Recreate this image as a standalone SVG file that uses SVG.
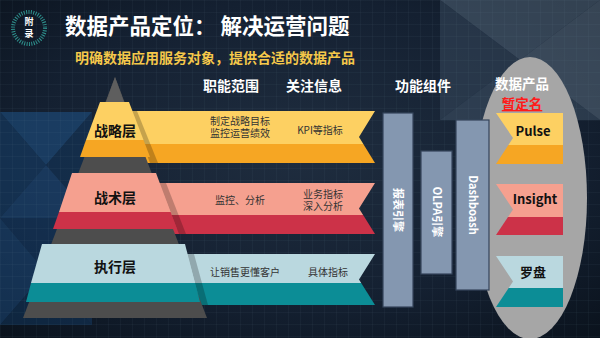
<svg xmlns="http://www.w3.org/2000/svg" width="600" height="338" viewBox="0 0 600 338">
<defs>
<radialGradient id="bg" cx="0.5" cy="0.45" r="0.75">
<stop offset="0" stop-color="#1f2d3f"/>
<stop offset="0.6" stop-color="#142031"/>
<stop offset="1" stop-color="#0a121c"/>
</radialGradient>
<pattern id="grid" width="12" height="12" patternUnits="userSpaceOnUse">
<path d="M12 0H0V12" fill="none" stroke="#6f8aa8" stroke-opacity="0.12" stroke-width="1"/>
</pattern>
<style>
.cjk{font-family:"Noto Sans CJK SC","Noto Sans",sans-serif;}
.title{font-size:21.5px;font-weight:bold;fill:#ffffff;}
.sub{font-size:14px;font-weight:bold;fill:#f5c84a;}
.hdr{font-size:14px;font-weight:bold;fill:#ffffff;text-anchor:middle;}
.lvl{font-size:14px;font-weight:bold;fill:#111111;text-anchor:middle;}
.rib{font-size:10px;fill:#333333;text-anchor:middle;}
.bar{fill:#8497b0;stroke:#34445a;stroke-width:1.2;}
.bart{font-size:11px;font-weight:bold;fill:#ffffff;text-anchor:middle;}
.prod{font-size:13px;font-weight:bold;fill:#111111;text-anchor:middle;}
.shadow{fill:#000000;fill-opacity:0.22;}
</style>
</defs>
<g id="background">
<rect width="600" height="338" fill="url(#bg)"/>
<polygon points="0,112 92,112 46,165" fill="#1f5388" fill-opacity="0.55"/>
<polygon points="0,112 46,165 0,218" fill="#163f6b" fill-opacity="0.55"/>
<polygon points="46,165 92,112 92,218" fill="#123760" fill-opacity="0.5"/>
<polygon points="0,218 46,165 92,218" fill="#1d4f86" fill-opacity="0.5"/>
<polygon points="0,218 92,218 46,272" fill="#143a66" fill-opacity="0.55"/>
<polygon points="0,218 46,272 0,325" fill="#1c4c80" fill-opacity="0.5"/>
<polygon points="46,272 92,218 92,325" fill="#16406f" fill-opacity="0.45"/>
<polygon points="0,325 46,272 92,325" fill="#123760" fill-opacity="0.5"/>
<polygon points="440,0 600,0 520,60" fill="#4c5f72" fill-opacity="0.6"/>
<polygon points="520,60 600,0 600,120" fill="#5a6c7e" fill-opacity="0.55"/>
<polygon points="440,0 520,60 440,120" fill="#3a4c60" fill-opacity="0.5"/>
<polygon points="440,120 520,60 600,120" fill="#4a5d70" fill-opacity="0.45"/>
<rect width="600" height="338" fill="url(#grid)"/>
</g>
<g id="badge">
<circle cx="29" cy="28" r="16" fill="none" stroke="#2e8f8c" stroke-width="4" stroke-dasharray="1 1.4"/>
<text x="29" y="25" class="cjk" font-size="9" font-weight="bold" fill="#ffffff" text-anchor="middle">附</text>
<text x="29" y="37" class="cjk" font-size="9" font-weight="bold" fill="#ffffff" text-anchor="middle">录</text>
</g>
<g id="title">
<text x="65" y="34" class="cjk title">数据产品定位： 解决运营问题</text>
<text x="75" y="63" class="cjk sub">明确数据应用服务对象，提供合适的数据产品</text>
</g>
<g id="headers">
<text x="231" y="91" class="cjk hdr">职能范围</text>
<text x="314" y="91" class="cjk hdr">关注信息</text>
<text x="423" y="91" class="cjk hdr">功能组件</text>
</g>
<g id="product-area">
<ellipse cx="530" cy="198" rx="57" ry="141" fill="#a6a6a6"/>
<text x="522" y="89" class="cjk" font-size="13.5" font-weight="bold" fill="#ffffff" text-anchor="middle">数据产品</text>
<text x="522" y="109" class="cjk" font-size="13.5" font-weight="bold" fill="#ff1a1a" text-anchor="middle" text-decoration="underline">暂定名</text>
</g>
<g id="ribbon-strategy">
<polygon points="125,111 375,111 359,137 363.3,144 125,144" fill="#fdd062"/>
<polygon points="125,144 363.3,144 375,163 125,163" fill="#f6a623"/>
<polygon points="130,111 137,111 158,163 150,163" class="shadow"/>
<text x="240" y="125" class="cjk rib">制定战略目标</text>
<text x="240" y="137" class="cjk rib">监控运营绩效</text>
<text x="320" y="134" class="cjk rib">KPI等指标</text>
</g>
<g id="ribbon-tactic">
<polygon points="125,183 375,183 359,208.5 363.1,215 125,215" fill="#f5a08f"/>
<polygon points="125,215 363.1,215 375,234 125,234" fill="#cc3248"/>
<polygon points="159,183 166,183 186,234 179,234" class="shadow"/>
<text x="240" y="204" class="cjk rib">监控、分析</text>
<text x="323" y="197.5" class="cjk rib">业务指标</text>
<text x="323" y="209.5" class="cjk rib">深入分析</text>
</g>
<g id="ribbon-execute">
<polygon points="125,254 375,254 359,279.5 361.2,283 125,283" fill="#bad8df"/>
<polygon points="125,283 361.2,283 375,305 125,305" fill="#0c8d96"/>
<polygon points="187,254 194,254 208,305 201,305" class="shadow"/>
<text x="245" y="276" class="cjk rib">让销售更懂客户</text>
<text x="328" y="276" class="cjk rib">具体指标</text>
</g>
<g id="pyramid">
<polygon points="115,77 207,318 23,318" fill="#4d4d4d"/>
<polygon points="115,77 124,102 106,102" fill="#5e5e5e"/>
<polygon points="100,102 129,102 143.5,140 86,140" fill="#fdd062"/>
<polygon points="86,140 143.5,140 150,157 80,157" fill="#f6a623"/>
<polygon points="72,173 156,173 170.6,212 59,212" fill="#f5a08f"/>
<polygon points="59,212 170.6,212 177,229 53,229" fill="#cc3248"/>
<polygon points="42,244 185,244 195,283 31,283" fill="#bad8df"/>
<polygon points="31,283 195,283 200,302 26,302" fill="#0c8d96"/>
<text x="115" y="136" class="cjk lvl">战略层</text>
<text x="115" y="203" class="cjk lvl">战术层</text>
<text x="115" y="272" class="cjk lvl">执行层</text>
</g>
<g id="bar-report">
<rect x="383" y="113" width="30" height="194" class="bar"/>
<text transform="translate(398,210) rotate(90)" y="4" class="cjk bart">报表引擎</text>
</g>
<g id="bar-olap">
<rect x="421" y="151" width="31" height="123" class="bar"/>
<text transform="translate(436.5,212) rotate(90)" y="4" class="cjk bart">OLPA引擎</text>
</g>
<g id="bar-dashboard">
<rect x="456" y="120" width="33" height="170" class="bar"/>
<text transform="translate(472.5,205) rotate(90)" y="4" class="cjk bart">Dashboash</text>
</g>
<g id="product-pulse">
<polygon points="496,113 563,113 563,145 508.4,145 513,138" fill="#fdd062"/>
<polygon points="508.4,145 563,145 563,164 496,164" fill="#f6a623"/>
<text x="533" y="135.5" class="cjk prod">Pulse</text>
</g>
<g id="product-insight">
<polygon points="496,184 563,184 563,217 508,217 513,209.5" fill="#f5a08f"/>
<polygon points="508,217 563,217 563,235 496,235" fill="#cc3248"/>
<text x="535" y="204" class="cjk prod">Insight</text>
</g>
<g id="product-compass">
<polygon points="496,256 563,256 563,288 508.7,288 513,281.5" fill="#bad8df"/>
<polygon points="508.7,288 563,288 563,307 496,307" fill="#0c8d96"/>
<text x="533" y="277" class="cjk prod">罗盘</text>
</g>
</svg>
